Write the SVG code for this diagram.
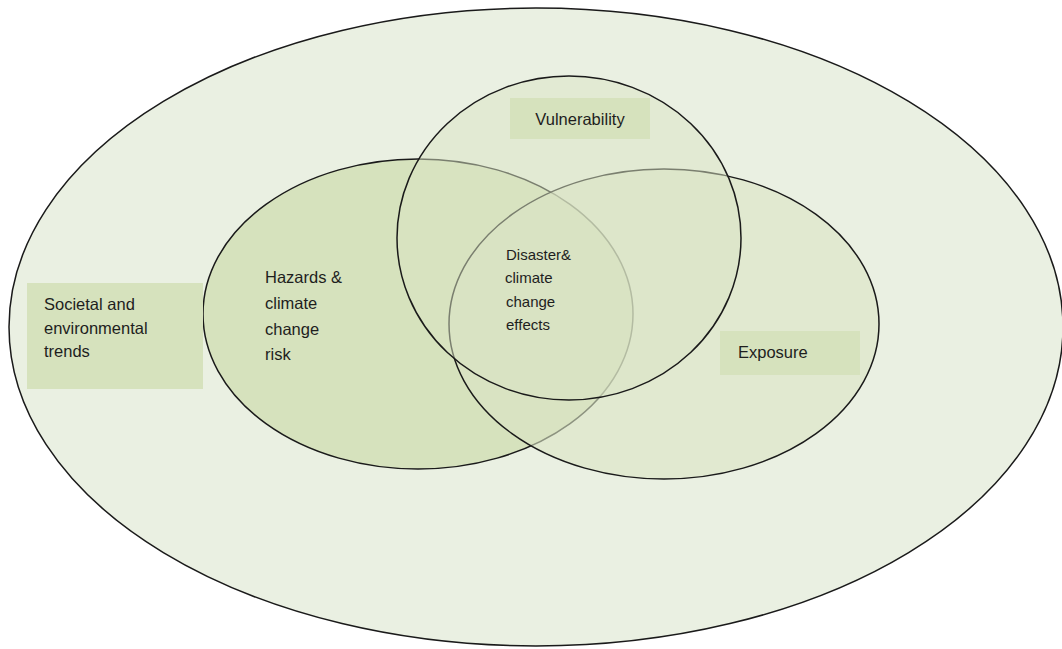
<svg xmlns="http://www.w3.org/2000/svg" width="1062" height="649" viewBox="0 0 1062 649">
<style>
.ell{stroke:#1a1a1a;stroke-width:1.5}
.box{fill:#d6e2bd}
.t{font-family:"Liberation Sans",Arial,sans-serif;font-size:16.5px;fill:#1e1e1e}
.s{font-family:"Liberation Sans",Arial,sans-serif;font-size:15px;fill:#1e1e1e}
</style>
<rect width="1062" height="649" fill="#ffffff"/>
<g id="outer">
<ellipse class="ell" cx="536" cy="327" rx="527" ry="319" fill="#eaf0e2"/>
</g>
<g id="hazards">
<ellipse class="ell" cx="418" cy="314" rx="215" ry="155" fill="#d6e2bd"/>
</g>
<g id="exposure">
<ellipse class="ell" cx="664" cy="324" rx="215" ry="155" fill="#dae4c4" fill-opacity="0.6" stroke-opacity="1"/>
</g>
<g id="vulnerability">
<ellipse class="ell" cx="569" cy="238" rx="172" ry="162" fill="#dae4c4" fill-opacity="0.5"/>
</g>
<g id="connectors"></g>
<g id="societal-label">
<rect class="box" x="27" y="283" width="176" height="106"/>
<text class="t" x="44" y="310">Societal and</text>
<text class="t" x="44" y="334">environmental</text>
<text class="t" x="44" y="357">trends</text>
</g>
<g id="vulnerability-label">
<rect class="box" x="510" y="98" width="140" height="41"/>
<text class="t" x="580" y="125" text-anchor="middle">Vulnerability</text>
</g>
<g id="exposure-label">
<rect class="box" x="720" y="331" width="140" height="44"/>
<text class="t" x="738" y="358">Exposure</text>
</g>
<g id="hazards-label">
<text class="t" x="265" y="283">Hazards &amp;</text>
<text class="t" x="265" y="309">climate</text>
<text class="t" x="265" y="335">change</text>
<text class="t" x="265" y="360">risk</text>
</g>
<g id="center-label">
<text class="s" x="506" y="260">Disaster&amp;</text>
<text class="s" x="505" y="283" fill="#555555">climate</text>
<text class="s" x="506" y="307">change</text>
<text class="s" x="506" y="330">effects</text>
</g>
</svg>
